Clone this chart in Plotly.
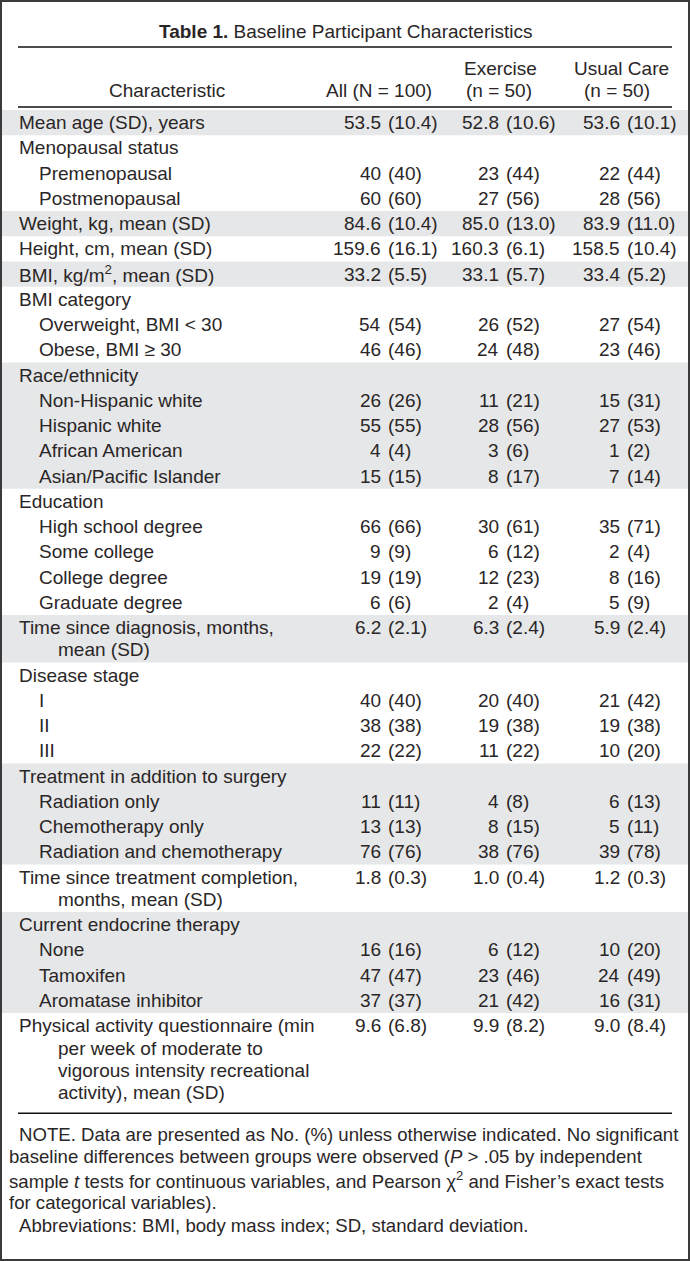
import plotly.graph_objects as go

# ---------------- data ----------------
title_bold = "Table 1."
title_rest = "Baseline Participant Characteristics"

header_characteristic = "Characteristic"
header_all = "All (N = 100)"
header_exercise = ["Exercise", "(n = 50)"]
header_usual = ["Usual Care", "(n = 50)"]

labels = [
    ["Mean age (SD), years"],
    ["Menopausal status"],
    ["Premenopausal"],
    ["Postmenopausal"],
    ["Weight, kg, mean (SD)"],
    ["Height, cm, mean (SD)"],
    ["BMI, kg/m<sup>2</sup>, mean (SD)"],
    ["BMI category"],
    ["Overweight, BMI &lt; 30"],
    ["Obese, BMI ≥ 30"],
    ["Race/ethnicity"],
    ["Non-Hispanic white"],
    ["Hispanic white"],
    ["African American"],
    ["Asian/Pacific Islander"],
    ["Education"],
    ["High school degree"],
    ["Some college"],
    ["College degree"],
    ["Graduate degree"],
    ["Time since diagnosis, months,", "mean (SD)"],
    ["Disease stage"],
    ["I"],
    ["II"],
    ["III"],
    ["Treatment in addition to surgery"],
    ["Radiation only"],
    ["Chemotherapy only"],
    ["Radiation and chemotherapy"],
    ["Time since treatment completion,", "months, mean (SD)"],
    ["Current endocrine therapy"],
    ["None"],
    ["Tamoxifen"],
    ["Aromatase inhibitor"],
    ["Physical activity questionnaire (min", "per week of moderate to",
     "vigorous intensity recreational", "activity), mean (SD)"],
]
levels = [0, 0, 1, 1, 0, 0, 0, 0, 1, 1, 0, 1, 1, 1, 1, 0, 1, 1, 1, 1,
          0, 0, 1, 1, 1, 0, 1, 1, 1, 0, 0, 1, 1, 1, 0]
groups = [0, 1, 1, 1, 2, 3, 4, 5, 5, 5, 6, 6, 6, 6, 6, 7, 7, 7, 7, 7,
          8, 9, 9, 9, 9, 10, 10, 10, 10, 11, 12, 12, 12, 12, 13]

all_vals = ["53.5 (10.4)", "", "40 (40)", "60 (60)", "84.6 (10.4)", "159.6 (16.1)",
            "33.2 (5.5)", "", "54 (54)", "46 (46)", "", "26 (26)", "55 (55)", "4 (4)",
            "15 (15)", "", "66 (66)", "9 (9)", "19 (19)", "6 (6)", "6.2 (2.1)", "",
            "40 (40)", "38 (38)", "22 (22)", "", "11 (11)", "13 (13)", "76 (76)",
            "1.8 (0.3)", "", "16 (16)", "47 (47)", "37 (37)", "9.6 (6.8)"]
exercise_vals = ["52.8 (10.6)", "", "23 (44)", "27 (56)", "85.0 (13.0)", "160.3 (6.1)",
                 "33.1 (5.7)", "", "26 (52)", "24 (48)", "", "11 (21)", "28 (56)", "3 (6)",
                 "8 (17)", "", "30 (61)", "6 (12)", "12 (23)", "2 (4)", "6.3 (2.4)", "",
                 "20 (40)", "19 (38)", "11 (22)", "", "4 (8)", "8 (15)", "38 (76)",
                 "1.0 (0.4)", "", "6 (12)", "23 (46)", "21 (42)", "9.9 (8.2)"]
usual_vals = ["53.6 (10.1)", "", "22 (44)", "28 (56)", "83.9 (11.0)", "158.5 (10.4)",
              "33.4 (5.2)", "", "27 (54)", "23 (46)", "", "15 (31)", "27 (53)", "1 (2)",
              "7 (14)", "", "35 (71)", "2 (4)", "8 (16)", "5 (9)", "5.9 (2.4)", "",
              "21 (42)", "19 (38)", "10 (20)", "", "6 (13)", "5 (11)", "39 (78)",
              "1.2 (0.3)", "", "10 (20)", "24 (49)", "16 (31)", "9.0 (8.4)"]

footnotes = [
    "NOTE. Data are presented as No. (%) unless otherwise indicated. No significant",
    "baseline differences between groups were observed (<i>P</i> &gt; .05 by independent",
    "sample <i>t</i> tests for continuous variables, and Pearson χ<sup>2</sup> and Fisher’s exact tests",
    "for categorical variables).",
    "Abbreviations: BMI, body mass index; SD, standard deviation.",
]
footnote_indent = [1, 0, 0, 0, 1]

# ---------------- layout constants ----------------
W, H = 690, 1261
FONT = "Liberation Sans"
FS = 19
FS_NOTE = 18.6
TXT = "#2a2627"
SHADE = "#e6e7e8"
ROW_H = 25.25
LINE_H = 22.3
TOP = 110
RULE_X0, RULE_X1 = 18, 672
LABEL_X = [18, 38]
WRAP_X = 57
PAREN_X = [387, 505, 626]
SPACE = 5

fig = go.Figure()
fig.add_trace(go.Scatter(x=[0, W], y=[0, H], mode="markers",
                         marker=dict(opacity=0), hoverinfo="skip", showlegend=False))

shapes = []
ann = []


def text(x, y, s, anchor="left", size=FS, color=TXT):
    ann.append(dict(x=x, y=y, xref="x", yref="y", text=s, showarrow=False,
                    xanchor=anchor, yanchor="middle", borderpad=0,
                    font=dict(family=FONT, size=size, color=color)))


# title
text(W / 2, 31, f"<b>{title_bold}</b> {title_rest}", anchor="center")
shapes.append(dict(type="line", x0=RULE_X0, x1=RULE_X1, y0=47, y1=47, xref="x", yref="y",
                   line=dict(color="#111", width=1.5)))
# headers
text(167, 90, header_characteristic, anchor="center")
text(433, 90, header_all, anchor="right")
text(500, 68, header_exercise[0], anchor="center")
text(499, 90, header_exercise[1], anchor="center")
text(621, 68, header_usual[0], anchor="center")
text(617, 90, header_usual[1], anchor="center")
shapes.append(dict(type="line", x0=RULE_X0, x1=RULE_X1, y0=107, y1=107, xref="x", yref="y",
                   line=dict(color="#111", width=1.5)))

# rows
y = TOP
group_bounds = {}
for i, lab in enumerate(labels):
    h = ROW_H + (len(lab) - 1) * LINE_H
    g = groups[i]
    lo, hi = group_bounds.get(g, (y, y))
    group_bounds[g] = (min(lo, y), y + h)
    for k, line in enumerate(lab):
        cy = y + ROW_H / 2 + k * LINE_H
        lx = LABEL_X[levels[i]] if k == 0 else WRAP_X
        text(lx, cy, line)
    cy = y + ROW_H / 2
    for px, v in zip(PAREN_X, (all_vals[i], exercise_vals[i], usual_vals[i])):
        if not v:
            continue
        num, rest = v.split(" (", 1)
        text(px - SPACE, cy, num, anchor="right")
        text(px, cy, "(" + rest, anchor="left")
    y += h

for g, (lo, hi) in group_bounds.items():
    if g % 2 == 0:
        shapes.append(dict(type="rect", x0=2, x1=W - 2, y0=lo, y1=hi, xref="x", yref="y",
                           fillcolor=SHADE, line=dict(width=0), layer="below"))

bottom_rule = y + 8
shapes.append(dict(type="line", x0=RULE_X0, x1=RULE_X1, y0=bottom_rule, y1=bottom_rule,
                   xref="x", yref="y", line=dict(color="#111", width=1.5)))

fy = bottom_rule + 21
for k, s in enumerate(footnotes):
    text(18 if footnote_indent[k] else 8, fy + k * 22.7, s, size=FS_NOTE)

# outer border
shapes.append(dict(type="rect", x0=1, x1=W - 1, y0=1, y1=H - 1, xref="x", yref="y",
                   line=dict(color="#3a3a3a", width=2), fillcolor="rgba(0,0,0,0)"))

fig.update_layout(
    width=W, height=H, margin=dict(l=0, r=0, t=0, b=0),
    paper_bgcolor="white", plot_bgcolor="white",
    xaxis=dict(range=[0, W], visible=False, fixedrange=True),
    yaxis=dict(range=[H, 0], visible=False, fixedrange=True),
    shapes=shapes, annotations=ann, showlegend=False,
)
fig.write_html("out.html", post_script="document.body.style.margin='0';",
               config={"displayModeBar": False})
